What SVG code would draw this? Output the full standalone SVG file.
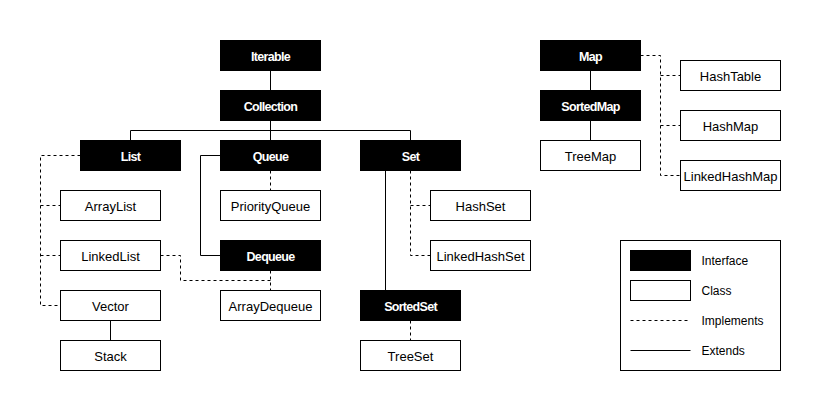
<svg xmlns="http://www.w3.org/2000/svg" width="821" height="411" viewBox="0 0 821 411">
<style>
.i rect{fill:#000;stroke:#000;stroke-width:1}
.i text{fill:#fff;font-family:"Liberation Sans",Arial,sans-serif;font-size:12.5px;font-weight:bold;letter-spacing:-0.7px;text-anchor:middle}
.c rect{fill:#fff;stroke:#000;stroke-width:1}
.c text{fill:#000;font-family:"Liberation Sans",Arial,sans-serif;font-size:13px;text-anchor:middle}
.ext{fill:none;stroke:#000;stroke-width:1}
.imp{fill:none;stroke:#000;stroke-width:1;stroke-dasharray:3 3}
.lg{fill:#000;font-family:"Liberation Sans",Arial,sans-serif;font-size:12px}
</style>
<rect width="821" height="411" fill="#fff"/>
<g transform="translate(0.5,0.5)">
<g id="connectors">
<path class="ext" d="M270,70V90"/>
<path class="ext" d="M270,120V140"/>
<path class="ext" d="M130,140V130H410V140"/>
<path class="imp" d="M80,155H40V305H60"/>
<path class="imp" d="M40,205H60"/>
<path class="imp" d="M40,255H60"/>
<path class="ext" d="M220,155H200V255H220"/>
<path class="imp" d="M270,170V190"/>
<path class="imp" d="M270,270V290"/>
<path class="imp" d="M160,255H180V280H270"/>
<path class="ext" d="M110,320V340"/>
<path class="ext" d="M385,170V290"/>
<path class="imp" d="M410,170V255H430"/>
<path class="imp" d="M410,205H430"/>
<path class="imp" d="M410,320V340"/>
<path class="ext" d="M590,70V90"/>
<path class="ext" d="M590,120V140"/>
<path class="imp" d="M640,55H660V175H680"/>
<path class="imp" d="M660,75H680"/>
<path class="imp" d="M660,125H680"/>
</g>
<g id="Iterable" class="i"><rect x="220" y="40" width="100" height="30"/><text x="270" y="60">Iterable</text></g>
<g id="Collection" class="i"><rect x="220" y="90" width="100" height="30"/><text x="270" y="110">Collection</text></g>
<g id="List" class="i"><rect x="80" y="140" width="100" height="30"/><text x="130" y="160">List</text></g>
<g id="Queue" class="i"><rect x="220" y="140" width="100" height="30"/><text x="270" y="160">Queue</text></g>
<g id="Set" class="i"><rect x="360" y="140" width="100" height="30"/><text x="410" y="160">Set</text></g>
<g id="Dequeue" class="i"><rect x="220" y="240" width="100" height="30"/><text x="270" y="260">Dequeue</text></g>
<g id="SortedSet" class="i"><rect x="360" y="290" width="100" height="30"/><text x="410" y="310">SortedSet</text></g>
<g id="Map" class="i"><rect x="540" y="40" width="100" height="30"/><text x="590" y="60">Map</text></g>
<g id="SortedMap" class="i"><rect x="540" y="90" width="100" height="30"/><text x="590" y="110">SortedMap</text></g>
<g id="ArrayList" class="c"><rect x="60" y="190" width="100" height="30"/><text x="110" y="210.5">ArrayList</text></g>
<g id="LinkedList" class="c"><rect x="60" y="240" width="100" height="30"/><text x="110" y="260.5">LinkedList</text></g>
<g id="Vector" class="c"><rect x="60" y="290" width="100" height="30"/><text x="110" y="310.5">Vector</text></g>
<g id="Stack" class="c"><rect x="60" y="340" width="100" height="30"/><text x="110" y="360.5">Stack</text></g>
<g id="PriorityQueue" class="c"><rect x="220" y="190" width="100" height="30"/><text x="270" y="210.5">PriorityQueue</text></g>
<g id="ArrayDequeue" class="c"><rect x="220" y="290" width="100" height="30"/><text x="270" y="310.5">ArrayDequeue</text></g>
<g id="HashSet" class="c"><rect x="430" y="190" width="100" height="30"/><text x="480" y="210.5">HashSet</text></g>
<g id="LinkedHashSet" class="c"><rect x="430" y="240" width="100" height="30"/><text x="480" y="260.5">LinkedHashSet</text></g>
<g id="TreeSet" class="c"><rect x="360" y="340" width="100" height="30"/><text x="410" y="360.5">TreeSet</text></g>
<g id="TreeMap" class="c"><rect x="540" y="140" width="100" height="30"/><text x="590" y="160.5">TreeMap</text></g>
<g id="HashTable" class="c"><rect x="680" y="60" width="100" height="30"/><text x="730" y="80.5">HashTable</text></g>
<g id="HashMap" class="c"><rect x="680" y="110" width="100" height="30"/><text x="730" y="130.5">HashMap</text></g>
<g id="LinkedHashMap" class="c"><rect x="680" y="160" width="100" height="30"/><text x="730" y="180.5">LinkedHashMap</text></g>
<g id="legend">
<rect x="620" y="240" width="160" height="130" fill="#fff" stroke="#000"/>
<rect x="630" y="250" width="60" height="20" fill="#000" stroke="#000"/>
<rect x="630" y="280" width="60" height="20" fill="#fff" stroke="#000"/>
<path class="imp" d="M630,320H690"/>
<path class="ext" d="M630,350H690"/>
<text class="lg" x="701" y="264">Interface</text>
<text class="lg" x="701" y="294">Class</text>
<text class="lg" x="701" y="324">Implements</text>
<text class="lg" x="701" y="354">Extends</text>
</g>
</g>
</svg>
